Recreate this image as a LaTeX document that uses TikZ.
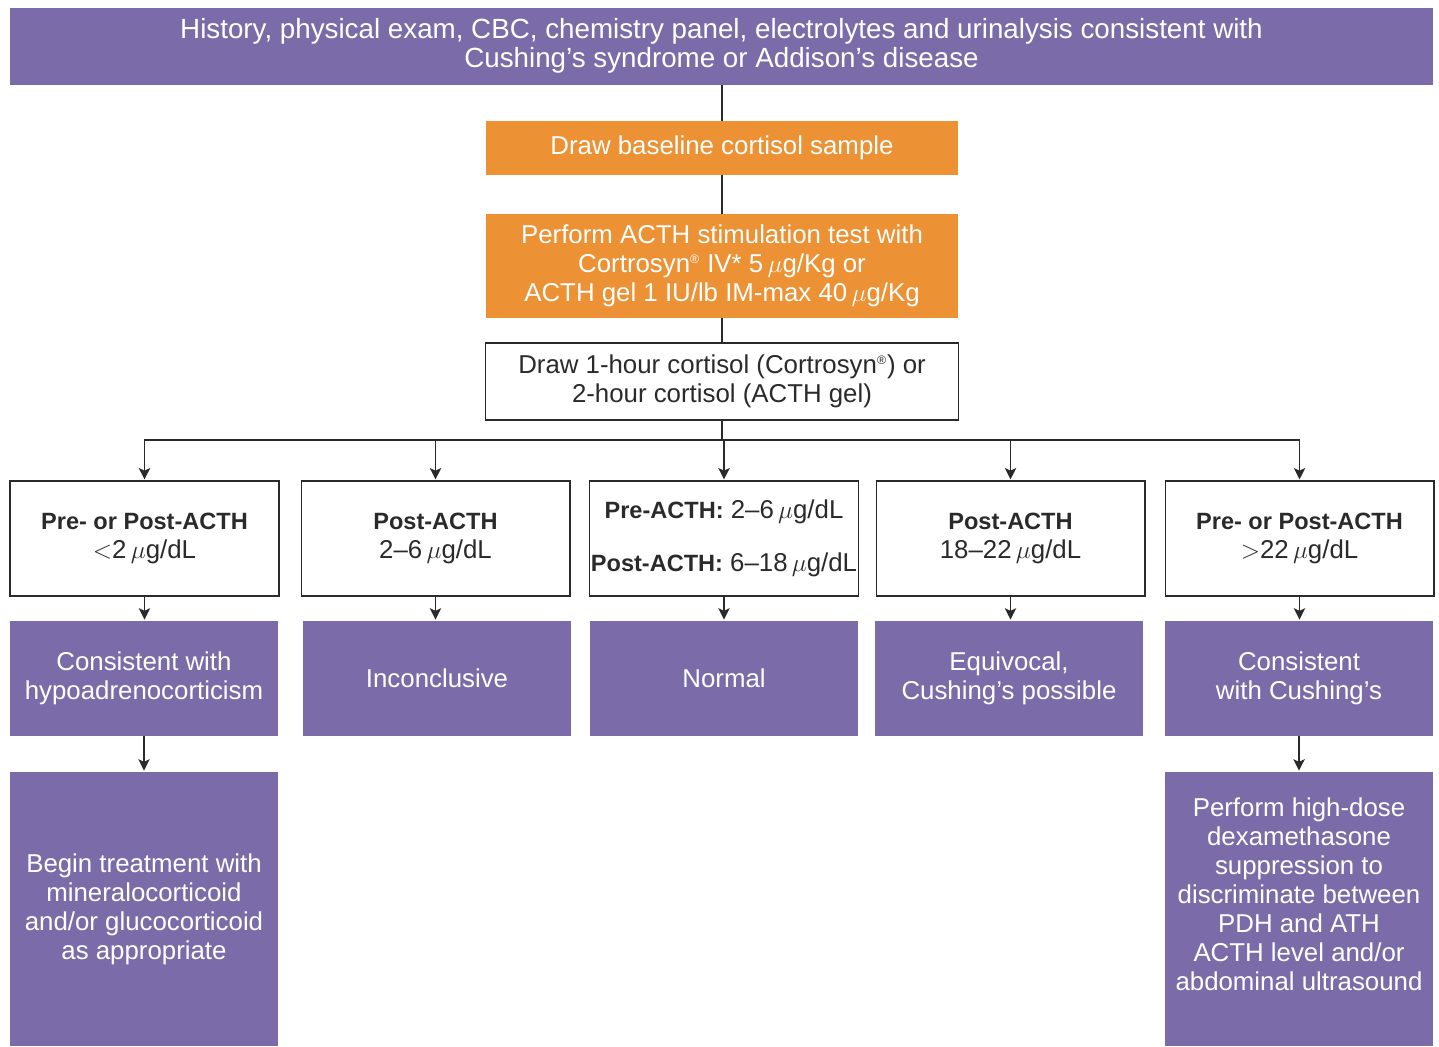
\documentclass[tikz,border=0pt]{standalone}
\usepackage{fontspec}
\setmainfont{Liberation Sans}
\usepackage{tikz}
\usetikzlibrary{arrows.meta}
\definecolor{purp}{HTML}{7B6CA9}
\definecolor{orng}{HTML}{EC9235}
\definecolor{ink}{HTML}{2A2A2A}
\newcommand\boxfont{\fontsize{14.7}{16.5}\selectfont}
\newcommand\headfont{\fontsize{15.8}{16.5}\selectfont}
\newcommand\hd[1]{{\fontsize{13.4}{16.5}\selectfont\bfseries #1}}
\newcommand\ug{\,$\mu$g}
\newcommand\reg{\textsuperscript{\scriptsize ®}}
\tikzset{
  link/.style={draw=ink, line width=0.7pt},
  arr/.style={link, -{Stealth[length=6.5pt,width=6.5pt,inset=1.5pt]}, shorten >=0.6pt},
  pbox/.style={fill=purp, text=white, align=center, inner sep=0pt, font=\boxfont},
  obox/.style={fill=orng, text=white, align=center, inner sep=0pt, font=\boxfont},
  wbox/.style={draw=ink, line width=0.6pt, fill=white, text=ink, align=center, inner sep=0pt, font=\boxfont},
  rbox/.style={wbox, minimum width=5.38cm, minimum height=2.3cm},
  cbox/.style={pbox, minimum width=5.36cm, minimum height=2.3cm},
  endbox/.style={pbox, minimum width=5.36cm, minimum height=5.48cm},
}

\begin{document}
\begin{tikzpicture}[x=0.02cm, y=-0.02cm]
  \useasboundingbox (0,0) rectangle (1439,1046);
  \node[pbox, font=\headfont, minimum width=28.46cm, minimum height=1.54cm] (head) at (721.5,46)
    {History, physical exam, CBC, chemistry panel, electrolytes and urinalysis consistent with\\Cushing's syndrome or Addison's disease};
  \node[obox, minimum width=9.46cm, minimum height=1.08cm] (base) at (722,148)
    {Draw baseline cortisol sample};
  \node[obox, minimum width=9.46cm, minimum height=2.08cm] (stim) at (722,266)
    {Perform ACTH stimulation test with\\Cortrosyn\reg{} IV* 5\ug/Kg or\\ACTH gel 1 IU/lb IM-max 40\ug/Kg};
  \node[wbox, minimum width=9.46cm, minimum height=1.54cm] (post) at (722,381.5)
    {Draw 1-hour cortisol (Cortrosyn\reg) or\\2-hour cortisol (ACTH gel)};
  \coordinate (bus) at (722,440);

  \node[rbox] (r1) at (144.5,538.5) {\hd{Pre- or Post-ACTH}\\$<$2\ug/dL};
  \node[rbox] (r2) at (435.5,538.5) {\hd{Post-ACTH}\\2--6\ug/dL};
  \node[rbox] (r3) at (724,538.5) {\hd{Pre-ACTH:} 2--6\ug/dL\\[14pt]\hd{Post-ACTH:} 6--18\ug/dL};
  \node[rbox] (r4) at (1010.5,538.5) {\hd{Post-ACTH}\\18--22\ug/dL};
  \node[rbox] (r5) at (1299.5,538.5) {\hd{Pre- or Post-ACTH}\\$>$22\ug/dL};

  \node[cbox] (c1) at (144,678.5) {Consistent with\\hypoadrenocorticism};
  \node[cbox] (c2) at (437,678.5) {Inconclusive};
  \node[cbox] (c3) at (724,678.5) {Normal};
  \node[cbox] (c4) at (1009,678.5) {Equivocal,\\Cushing's possible};
  \node[cbox] (c5) at (1299,678.5) {Consistent\\with Cushing's};

  \node[endbox] (e1) at (144,909) {Begin treatment with\\mineralocorticoid\\and/or glucocorticoid\\as appropriate};
  \node[endbox] (e5) at (1299,909) {Perform high-dose\\dexamethasone\\suppression to\\discriminate between\\PDH and ATH\\ACTH level and/or\\abdominal ultrasound\\~};

  \draw[link] (head.south -| base) -- (base.north);
  \draw[link] (base) -- (stim);
  \draw[link] (stim) -- (post);
  \draw[link] (post) -- (bus);
  \foreach \i in {1,...,5}{
    \draw[arr] (bus) -| (r\i.north);
    \draw[arr] (r\i.south) -- (r\i.south |- c\i.north);
  }
  \draw[arr] (c1) -- (e1);
  \draw[arr] (c5) -- (e5);
\end{tikzpicture}
\end{document}
